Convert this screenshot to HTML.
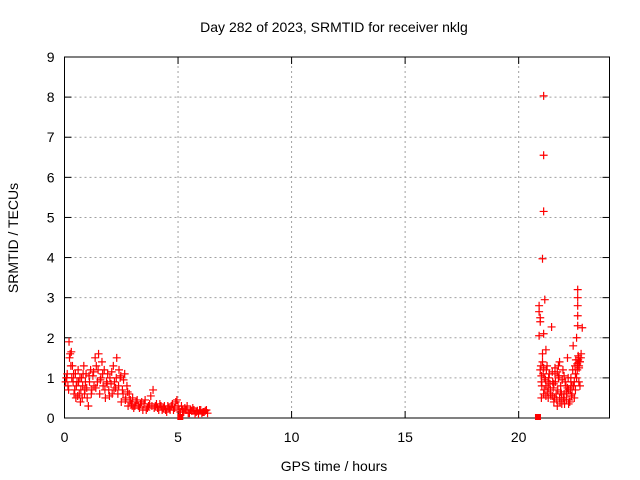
<!DOCTYPE html>
<html><head><meta charset="utf-8"><style>
body{margin:0;background:#fff}
svg{display:block;font-family:"Liberation Sans",sans-serif}
</style></head><body>
<svg id="chart" width="640" height="480" viewBox="0 0 640 480">
<rect width="640" height="480" fill="#fff"/>
<text x="334" y="32" text-anchor="middle" font-size="14" fill="#000">Day 282 of 2023, SRMTID for receiver nklg</text>
<text x="334" y="471" text-anchor="middle" font-size="14" fill="#000">GPS time / hours</text>
<text x="18" y="238" text-anchor="middle" font-size="14" fill="#000" transform="rotate(-90 18 238)">SRMTID / TECUs</text>
<g id="grid"></g>
<g id="axes"></g>
<g id="pts"></g>
</svg>
<script>
const xTicks=[0,5,10,15,20];
const yTicks=[0,1,2,3,4,5,6,7,8,9];
const times1=[0.05,0.1,0.15,0.2,0.25,0.3,0.35,0.4,0.45,0.5,0.55,0.6,0.65,0.7,0.75,0.8,0.85,0.9,0.95,1.0,1.05,1.1,1.15,1.2,1.25,1.3,1.35,1.4,1.45,1.5,1.55,1.6,1.65,1.7,1.75,1.8,1.85,1.9,1.95,2.0,2.05,2.1,2.15,2.2,2.25,2.3,2.35,2.4,2.45,2.5,2.55,2.6,2.65,2.7,2.75,2.8,2.85,2.9,2.95,3.0,3.1,3.2,3.3,3.4,3.5,3.6,3.7,3.8,3.9,4.0,4.1,4.2,4.3,4.4,4.5,4.6,4.7,4.8,4.9,5.0,5.1,5.2,5.3,5.4,5.5,5.6,5.7,5.8,5.9,6.0,6.1,6.2,6.3];
const vals1=[0.9,1.0,0.8,1.9,1.6,1.65,1.3,1.1,0.7,0.5,0.9,1.2,0.6,0.4,1.0,0.8,1.3,0.7,1.1,0.5,0.3,0.9,1.2,0.7,1.05,0.8,1.5,1.3,0.9,1.6,0.6,1.0,1.4,0.8,1.2,0.5,0.9,1.1,0.7,1.0,0.85,0.6,1.3,0.9,0.75,1.5,0.6,1.2,1.0,0.4,0.7,0.95,1.1,0.5,0.8,0.3,0.6,0.45,0.35,0.5,0.3,0.45,0.25,0.4,0.35,0.2,0.3,0.55,0.7,0.3,0.25,0.35,0.2,0.3,0.15,0.25,0.3,0.2,0.4,0.3,0.15,0.2,0.25,0.3,0.12,0.18,0.2,0.15,0.1,0.2,0.15,0.18,0.12];
const times3=[0.08,0.12,0.18,0.22,0.28,0.32,0.38,0.42,0.48,0.52,0.58,0.62,0.68,0.72,0.78,0.82,0.88,0.92,0.98,1.08,1.18,1.28,1.38,1.48,1.58,1.68,1.78,1.88,1.98,2.08,2.18,2.28,2.38,2.48,2.58,2.68,2.78,2.88,2.98,3.05,3.15,3.25,3.35,3.45,3.55,3.65,3.75,3.85,3.95,4.05,4.15,4.25,4.35,4.45,4.55,4.65,4.75,4.85,4.95,5.05,5.15,5.25,5.35,5.45,5.55,5.65,5.75,5.85,5.95,6.05,6.15,6.25];
const vals3=[1.0,1.1,0.7,1.5,1.3,1.0,0.9,0.6,1.1,0.8,0.55,0.9,1.0,0.7,0.5,1.1,0.6,0.9,0.75,1.05,0.6,1.15,0.75,1.2,0.95,1.1,0.7,0.85,0.55,1.15,0.7,1.0,0.8,1.05,0.6,0.45,0.65,0.4,0.3,0.25,0.4,0.3,0.35,0.2,0.45,0.25,0.35,0.3,0.25,0.35,0.2,0.3,0.25,0.2,0.3,0.2,0.35,0.25,0.45,0.2,0.3,0.15,0.2,0.12,0.2,0.25,0.1,0.18,0.2,0.12,0.15,0.2];
const times2=[21.1,21.1,21.1,21.05,21.15,20.9,20.9,20.95,20.95,20.9,21.1,21.45,20.95,21.0,21.05,21.1,21.15,21.2,21.25,21.3,21.35,21.4,21.5,21.55,21.6,21.65,21.7,21.75,21.8,21.85,21.9,21.95,22.0,22.05,22.1,22.15,22.2,22.25,22.3,22.35,22.4,22.45,22.5,22.55,22.6,22.6,22.6,22.6,22.6,22.65,22.7,22.75,22.8,22.6,22.55,22.5,22.65,22.7,21.0,21.05,21.2,21.3,21.6,21.75,21.9,22.0,22.2,22.35,21.8,21.5,22.1];
const vals2=[8.03,6.55,5.15,3.97,2.95,2.8,2.65,2.5,2.4,2.05,2.1,2.27,1.2,0.9,1.4,0.6,1.0,0.8,1.3,0.5,1.1,0.7,0.9,0.4,1.25,0.6,0.3,1.0,0.5,0.8,0.35,1.2,0.6,0.9,0.45,1.5,0.7,0.4,0.9,0.6,1.8,0.5,1.1,2.0,3.2,3.0,2.8,2.55,2.3,1.5,1.4,1.6,2.25,1.3,1.0,0.7,0.9,0.8,0.5,1.6,1.7,0.9,1.1,1.3,0.5,1.05,0.35,0.8,1.4,0.55,0.65];
const times4=[20.98,21.02,21.08,21.12,21.18,21.22,21.28,21.32,21.38,21.42,21.48,21.52,21.58,21.62,21.68,21.72,21.78,21.82,21.88,21.92,21.98,22.02,22.08,22.12,22.18,22.22,22.28,22.32,22.38,22.42,22.48,22.52,22.58,22.62,22.66,22.7,22.74,22.58,22.62,22.66,21.0,21.1,21.2,21.3,21.4,21.55,21.7,21.85,22.0,22.15,22.3,22.45];
const vals4=[1.3,0.8,1.1,0.7,0.95,1.2,0.65,1.0,0.85,0.55,1.15,0.75,0.5,0.9,0.45,0.7,1.05,0.4,0.6,0.95,0.5,0.35,0.8,0.6,1.0,0.45,0.7,0.55,1.2,0.8,1.3,1.45,1.35,1.55,1.25,1.4,1.5,1.2,1.45,1.3,1.05,1.25,0.55,0.75,0.6,0.85,1.15,0.65,0.45,0.75,1.0,0.9];
const X0=64.5,X1=609.5,Y0=418,Y1=57,XMAX=24,YMAX=9;
const xs=t=>X0+(X1-X0)*t/XMAX, ys=v=>Y0-(Y0-Y1)*v/YMAX;
const NS="http://www.w3.org/2000/svg";
function mk(tag,attrs,parent){const e=document.createElementNS(NS,tag);for(const k in attrs)e.setAttribute(k,attrs[k]);parent.appendChild(e);return e;}
const grid=document.getElementById('grid'),axes=document.getElementById('axes'),pts=document.getElementById('pts');
xTicks.forEach(t=>{
 if(t>0){const l=mk('line',{x1:xs(t),x2:xs(t),y1:Y0,y2:Y1,stroke:'#a0a0a0','stroke-dasharray':'2,3'},grid);
 
 }
 const tk=mk('line',{x1:xs(t),x2:xs(t),y1:Y0,y2:Y0-7,stroke:'#000'},axes);
 
 
 const tk2=mk('line',{x1:xs(t),x2:xs(t),y1:Y1,y2:Y1+7,stroke:'#000'},axes);
 
 
 const tx=mk('text',{x:xs(t),y:442,'text-anchor':'middle','font-size':14},axes);tx.textContent=t;
 
 
});
yTicks.forEach(v=>{
 if(v>0&&v<YMAX){const l=mk('line',{x1:X0,x2:X1,y1:ys(v),y2:ys(v),stroke:'#a0a0a0','stroke-dasharray':'2,3'},grid);
 
 }
 const tk=mk('line',{x1:X0,x2:X0+7,y1:ys(v),y2:ys(v),stroke:'#000'},axes);
 
 
 const tk2=mk('line',{x1:X1,x2:X1-7,y1:ys(v),y2:ys(v),stroke:'#000'},axes);
 
 
 const tx=mk('text',{x:X0-10,y:ys(v)+5,'text-anchor':'end','font-size':14},axes);tx.textContent=v;
 
 
});
const fr=mk('rect',{x:X0,y:Y1,width:X1-X0,height:Y0-Y1,fill:'none',stroke:'#000'},axes);


function plus(t,v){const x=xs(t),y=ys(v);
 const p=mk('path',{d:`M${x-4},${y}h8M${x},${y-4}v8`,stroke:'#f00','stroke-width':1.2,fill:'none'},pts);
 
 }
times1.forEach((t,i)=>plus(t,vals1[i]));
times3.forEach((t,i)=>plus(t,vals3[i]));
times2.forEach((t,i)=>plus(t,vals2[i]));
times4.forEach((t,i)=>plus(t,vals4[i]));
const m1=mk('rect',{x:xs(5.1)-3,y:Y0-4,width:6,height:6,fill:'#f00'},pts);


const m2=mk('rect',{x:xs(20.85)-3,y:Y0-4,width:6,height:6,fill:'#f00'},pts);


</script>
</body></html>
